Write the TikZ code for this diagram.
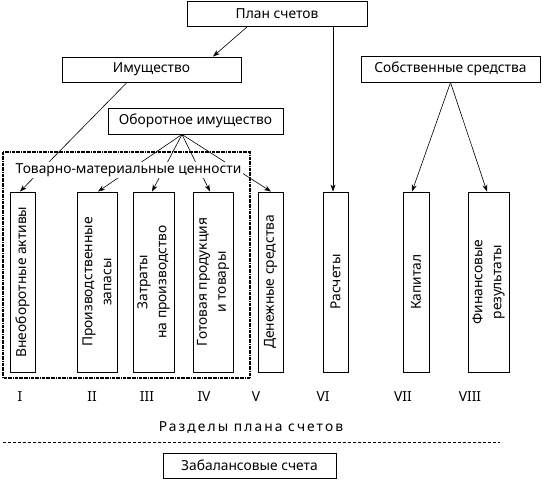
\documentclass[tikz,border=0pt]{standalone}
\usepackage{fontspec}
\setmainfont{Noto Sans}
\usetikzlibrary{arrows.meta}

\begin{document}
\begin{tikzpicture}[x=1pt, y=-1pt, >={Stealth[length=7pt, width=5pt]},
	font=\fontsize{13.8}{19}\selectfont,
	blk/.style={draw, line width=0.9pt, inner sep=0pt, minimum height=25pt},
	col/.style={draw, line width=0.9pt, inner sep=0pt, rotate=90, align=center, minimum width=180pt},
	link/.style={->, line width=0.6pt}]
	\useasboundingbox (0,0) rectangle (543,480);

	\node at (277,14) [blk, minimum width=180pt] (plan) {План счетов};
	\node at (151.5,69.5) [blk, minimum width=179pt] (imush) {Имущество};
	\node at (195.5,121) [blk, minimum width=175pt, minimum height=26pt] (obor) {Оборотное имущество};
	\node at (450.5,69) [blk, minimum width=179pt, minimum height=26pt] (sobstv) {Собственные средства};

	\node at (22.5,282) [col, minimum height=25pt] (c1) {Внеоборотные активы};
	\node at (97,282) [col, minimum height=40pt] (c2) {Производственные\\запасы};
	\node at (153.5,282) [col, minimum height=41pt] (c3) {Затраты\\на производство};
	\node at (213,282) [col, minimum height=40pt] (c4) {Готовая продукция\\и товары};
	\node at (270.5,282) [col, minimum height=25pt] (c5) {Денежные средства};
	\node at (335.5,282) [col, minimum height=25pt] (c6) {Расчеты};
	\node at (416,282) [col, minimum height=26pt] (c7) {Капитал};
	\node at (488.5,282) [col, minimum height=41pt] (c8) {Финансовые\\результаты};

	\draw [densely dash dot, line width=1.2pt] (3,152) rectangle (250,378);

	\coordinate (t6) at ([xshift=-2.5pt]c6.east);
	\draw [link] ([xshift=-30pt]plan.south) -- ([xshift=61.5pt]imush.north);
	\draw [link] (t6 |- plan.south) -- (t6);
	\draw [link] ([xshift=-24.5pt]imush.south) -- ([xshift=-2.5pt]c1.east);
	\draw [link] ([xshift=-13.5pt]obor.south) -- ([xshift=1pt]c2.east);
	\draw [link] ([xshift=-13.5pt]obor.south) -- ([xshift=-1.5pt]c3.east);
	\draw [link] ([xshift=-13.5pt]obor.south) -- ([xshift=-3pt]c4.east);
	\draw [link] ([xshift=-13.5pt]obor.south) -- ([xshift=0.5pt]c5.east);
	\draw [link] (sobstv.south) -- ([xshift=-4pt]c7.east);
	\draw [link] (sobstv.south) -- ([xshift=-1.5pt]c8.east);

	\node at (128.5,170) [fill=white, inner sep=1.5pt] (tmc) {Товарно-материальные ценности};

	\node at (20,397) (n1) {I};
	\node at (92,397) (n2) {II};
	\node at (147,397) (n3) {III};
	\node at (204,397) (n4) {IV};
	\node at (256,397) (n5) {V};
	\node at (323,397) (n6) {VI};
	\node at (403,397) (n7) {VII};
	\node at (470,397) (n8) {VIII};

	\node at (251,428) (razd) {\addfontfeatures{LetterSpace=15}Разделы плана счетов};
	\draw [densely dashed, line width=0.6pt] (3,442) -- (500,442);
	\node at (249.5,465.5) [blk, minimum width=173pt] (zabal) {Забалансовые счета};
\end{tikzpicture}
\end{document}
